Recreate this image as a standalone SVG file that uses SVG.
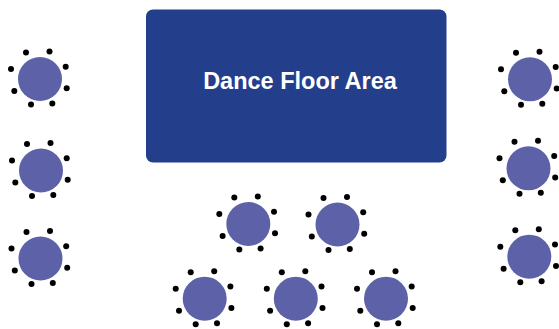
<svg xmlns="http://www.w3.org/2000/svg" xmlns:xlink="http://www.w3.org/1999/xlink" width="559" height="329" viewBox="0 0 559 329">
<style>
.table{fill:#5d62a8}
.seat{fill:#000}
.floor{fill:#233f8c}
.label{font-family:"Liberation Sans",Arial,sans-serif;font-weight:bold;font-size:23.5px;fill:#fff}
</style>
<defs>
<g id="t">
<circle class="table" r="22"/>
<circle class="seat" cx="-14" cy="-26.5" r="3"/>
<circle class="seat" cx="9.5" cy="-27.5" r="3"/>
<circle class="seat" cx="25.7" cy="-12.3" r="3"/>
<circle class="seat" cx="26.7" cy="9.3" r="3"/>
<circle class="seat" cx="12.3" cy="24.5" r="3"/>
<circle class="seat" cx="-9" cy="25.5" r="3"/>
<circle class="seat" cx="-25.7" cy="12" r="3"/>
<circle class="seat" cx="-29" cy="-10" r="3"/>
</g>
</defs>
<rect width="559" height="329" fill="#fff"/>
<g id="dance-floor">
<rect class="floor" x="146" y="9.5" width="300.5" height="153" rx="7"/>
<text class="label" x="300" y="89" text-anchor="middle">Dance Floor Area</text>
</g>
<g id="table-l1"><use xlink:href="#t" x="40" y="79"/></g>
<g id="table-l2"><use xlink:href="#t" x="41" y="170.5"/></g>
<g id="table-l3"><use xlink:href="#t" x="40.5" y="258.5"/></g>
<g id="table-r1"><use xlink:href="#t" x="530" y="79.3"/></g>
<g id="table-r2"><use xlink:href="#t" x="528.5" y="168.3"/></g>
<g id="table-r3"><use xlink:href="#t" x="529.3" y="256.7"/></g>
<g id="table-c1"><use xlink:href="#t" x="248.3" y="224"/></g>
<g id="table-c2"><use xlink:href="#t" x="337.5" y="224.5"/></g>
<g id="table-c3"><use xlink:href="#t" x="204.7" y="298.7"/></g>
<g id="table-c4"><use xlink:href="#t" x="295.8" y="298.7"/></g>
<g id="table-c5"><use xlink:href="#t" x="386" y="298.7"/></g>
<g id="connectors"/>
</svg>
